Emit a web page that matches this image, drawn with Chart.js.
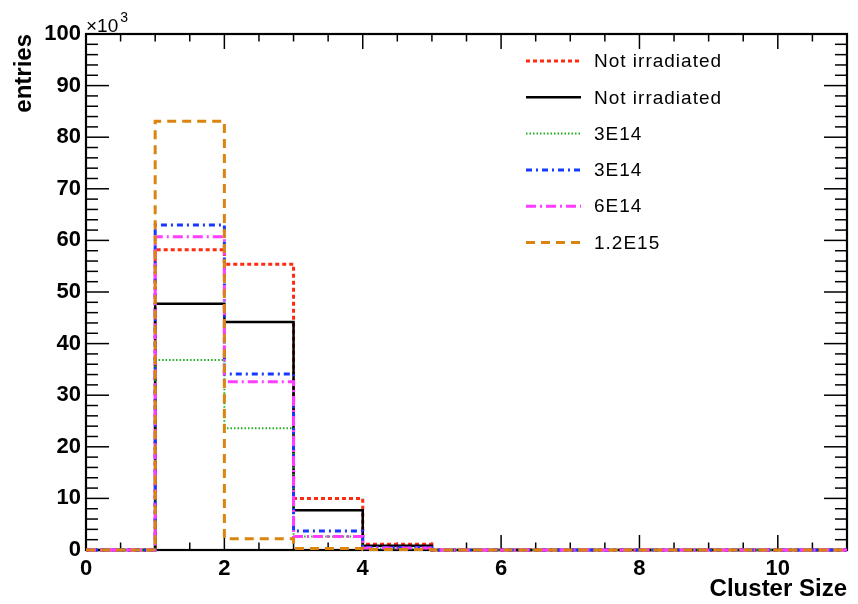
<!DOCTYPE html>
<html>
<head>
<meta charset="utf-8">
<script src="https://cdn.jsdelivr.net/npm/chart.js@4.4.0/dist/chart.umd.min.js"></script>
<style>
  html, body { margin: 0; padding: 0; background: #fff; }
  #wrap { width: 858px; height: 604px; }
</style>
</head>
<body>
<div id="wrap"><canvas id="myChart"></canvas></div>
<script>
// bin edges of the cluster size histogram (bin i = [i, i+1))
let binEdges = [0, 1, 2, 3, 4, 5, 6, 7, 8, 9, 10, 11];
let labels = ['Not irradiated', 'Not irradiated', '3E14', '3E14', '6E14', '1.2E15'];

// entries per bin
let notIrrDotted = [0, 58200, 55400, 10000, 1100, 0, 0, 0, 0, 0, 0];
let notIrrSolid  = [0, 47700, 44200, 7700, 800, 0, 0, 0, 0, 0, 0];
let f3e14Dotted  = [0, 36800, 23600, 2600, 300, 0, 0, 0, 0, 0, 0];
let f3e14DashDot = [0, 63000, 34100, 3700, 500, 0, 0, 0, 0, 0, 0];
let f6e14        = [0, 60700, 32600, 2600, 400, 0, 0, 0, 0, 0, 0];
let f12e15       = [0, 83100, 2200, 300, 100, 0, 0, 0, 0, 0, 0];

let yTicks = [0, 10, 20, 30, 40, 50, 60, 70, 80, 90, 100]; // x10^3
let xTicks = [0, 2, 4, 6, 8, 10];

let series = [notIrrDotted, notIrrSolid, f3e14Dotted, f3e14DashDot, f6e14, f12e15];
let colorHex = ['#ff2a10', '#000000', '#1fb01f', '#1638ff', '#ff3cff', '#dc8410'];
let dashes = [[4, 3], [], [1.5, 2], [6, 4, 2, 4], [10, 4, 2, 4], [9, 6]];
let widths = [3, 2.5, 2, 3, 3, 3];

function toSteps(values) {
  let pts = values.map((v, i) => ({x: binEdges[i], y: v}));
  pts.push({x: binEdges[values.length], y: values[values.length - 1]});
  return pts;
}

let datasets = series.map((vals, i) => ({
  label: labels[i],
  data: toSteps(vals),
  borderColor: colorHex[i],
  borderDash: dashes[i],
  borderWidth: widths[i],
  stepped: 'before',
  pointRadius: 0,
  fill: false,
  clip: false,
  order: series.length - i   // later ones on top, like ROOT
}));

function line(ctx, x1, y1, x2, y2) {
  ctx.beginPath(); ctx.moveTo(x1, y1); ctx.lineTo(x2, y2); ctx.stroke();
}

let rootFrame = {
  id: 'rootFrame',
  beforeDatasetsDraw(chart) {
    let {ctx, chartArea: a, scales: {x, y}} = chart;
    ctx.save();
    ctx.strokeStyle = '#000';
    ctx.lineWidth = 1.5;
    for (let v = 0; v <= 11; v += 0.5) {
      let px = x.getPixelForValue(v);
      let len = v % 2 === 0 ? 15 : 7.5;
      line(ctx, px, a.bottom, px, a.bottom - len);
      line(ctx, px, a.top, px, a.top + len);
    }
    for (let v = 0; v <= 100000; v += 2000) {
      let py = y.getPixelForValue(v);
      let len = v % 10000 === 0 ? 23 : 12;
      line(ctx, a.left, py, a.left + len, py);
      line(ctx, a.right, py, a.right - len, py);
    }
    ctx.lineWidth = 2.2;
    ctx.strokeRect(a.left, a.top, a.right - a.left, a.bottom - a.top);
    ctx.restore();
  },
  afterDraw(chart) {
    let {ctx, chartArea: a} = chart;
    ctx.save();
    // exponent label
    ctx.fillStyle = '#000';
    ctx.textBaseline = 'alphabetic';
    ctx.font = '19px "Liberation Sans", Arial, sans-serif';
    ctx.fillText('\u00d710', a.left, 32);
    let w = ctx.measureText('\u00d710').width;
    ctx.font = '14px "Liberation Sans", Arial, sans-serif';
    ctx.fillText('3', a.left + w + 2, 22);

    // legend
    ctx.font = '19px "Liberation Sans", Arial, sans-serif';
    ctx.letterSpacing = '1px';
    ctx.textBaseline = 'middle';
    for (let i = 0; i < labels.length; i++) {
      let ly = 61 + i * 36.3;
      ctx.strokeStyle = colorHex[i];
      ctx.lineWidth = widths[i];
      ctx.setLineDash(dashes[i]);
      line(ctx, 526, ly, 581, ly);
      ctx.setLineDash([]);
      ctx.fillStyle = '#000';
      ctx.fillText(labels[i], 594, ly + 1);
    }
    ctx.restore();
  }
};

let ctx = document.getElementById('myChart').getContext('2d');
Chart.defaults.font.family = '"Liberation Sans", Arial, sans-serif';
Chart.defaults.color = '#000';

let myChart = new Chart(ctx, {
  type: 'line',
  data: { datasets: datasets },
  options: {
    responsive: true,
    maintainAspectRatio: false,
    animation: false,
    layout: { padding: { top: 34, right: 11, left: 0, bottom: 0 } },
    plugins: {
      legend: { display: false },
      tooltip: { enabled: false }
    },
    scales: {
      x: {
        type: 'linear',
        min: 0,
        max: 11,
        grid: { display: false, drawTicks: false, tickLength: 0 },
        border: { display: false },
        afterBuildTicks: (scale) => {
          scale.ticks = xTicks.map(v => ({value: v}));
        },
        afterFit: (scale) => { scale.height = 54; },
        ticks: {
          padding: 6,
          maxRotation: 0,
          font: { size: 22, weight: 'bold' }
        },
        title: {
          display: true,
          text: 'Cluster Size',
          align: 'end',
          padding: { top: 0, bottom: 0 },
          font: { size: 24, weight: 'bold' }
        }
      },
      y: {
        min: 0,
        max: 100000,
        grid: { display: false, drawTicks: false, tickLength: 0 },
        border: { display: false },
        afterBuildTicks: (scale) => {
          scale.ticks = yTicks.map(v => ({value: v * 1000}));
        },
        afterFit: (scale) => { scale.width = 86; },
        ticks: {
          padding: 5,
          font: { size: 22, weight: 'bold' },
          callback: (value) => value / 1000
        },
        title: {
          display: true,
          text: 'entries',
          align: 'end',
          padding: { top: 10, bottom: 0 },
          font: { size: 24, weight: 'bold' }
        }
      }
    }
  },
  plugins: [rootFrame]
});
</script>
</body>
</html>
